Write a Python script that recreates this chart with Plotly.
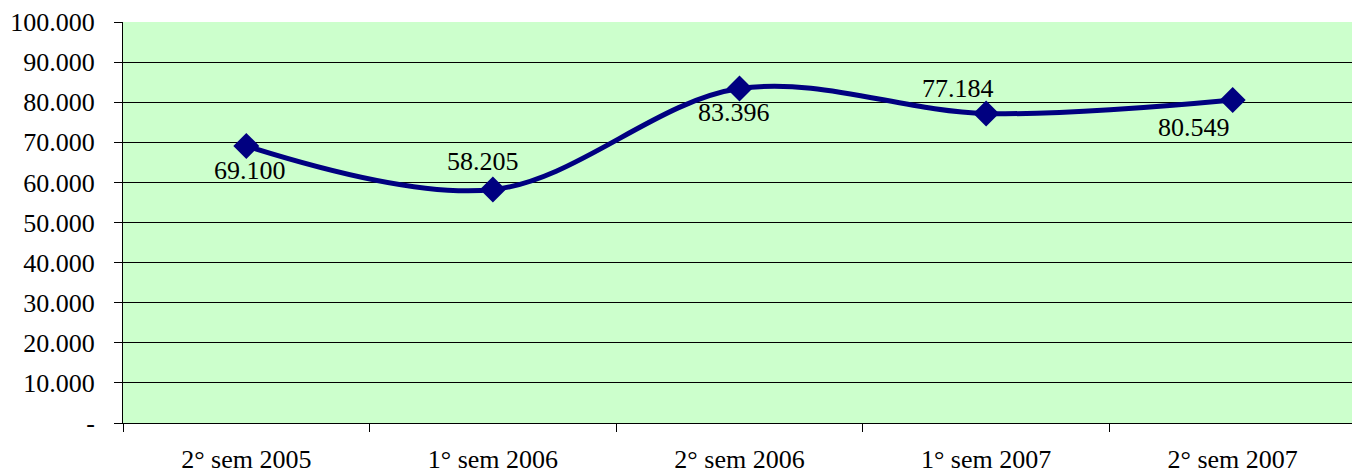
import plotly.graph_objects as go

categories = ["2° sem 2005", "1° sem 2006", "2° sem 2006", "1° sem 2007", "2° sem 2007"]
values = [69100, 58205, 83396, 77184, 80549]
y_tickvals = [0, 10000, 20000, 30000, 40000, 50000, 60000, 70000, 80000, 90000, 100000]
y_ticktext = ["-", "10.000", "20.000", "30.000", "40.000", "50.000", "60.000",
              "70.000", "80.000", "90.000", "100.000"]
label_shifts = [(4, -25), (-10, 28), (-6, -24), (-28, 25), (-39, -27)]

font = dict(family="Liberation Serif, Times New Roman, serif", size=26, color="black")

fig = go.Figure()
fig.add_trace(go.Scatter(
    x=categories, y=values, mode="lines+markers",
    line=dict(color="#000080", width=5, shape="spline"),
    marker=dict(symbol="diamond", size=20, color="#000080"),
    hoverinfo="skip",
))

for c, v, (dx, dy) in zip(categories, values, label_shifts):
    fig.add_annotation(x=c, y=v, text=f"{v:,}".replace(",", "."), showarrow=False,
                       xshift=dx, yshift=dy, font=font)

fig.update_layout(
    width=1352, height=467,
    margin=dict(l=115, r=4, t=14, b=52),
    paper_bgcolor="white", plot_bgcolor="#CCFFCC",
    showlegend=False, font=font,
)
fig.update_xaxes(
    type="category", range=[-0.5, 4.5], tickson="boundaries",
    ticks="outside", ticklen=8, tickcolor="black", tickwidth=1,
    showline=True, linecolor="black", linewidth=1,
    showgrid=False, ticklabelstandoff=13, tickfont=font, automargin=False,
)
fig.update_yaxes(
    range=[0, 100000], tickvals=y_tickvals, ticktext=y_ticktext,
    ticks="outside", ticklen=8, tickcolor="black", tickwidth=1,
    showline=True, linecolor="black", linewidth=1,
    showgrid=True, gridcolor="black", gridwidth=1, zeroline=False,
    ticklabelstandoff=14, tickfont=font, automargin=False,
)

fig.write_html("out.html")
